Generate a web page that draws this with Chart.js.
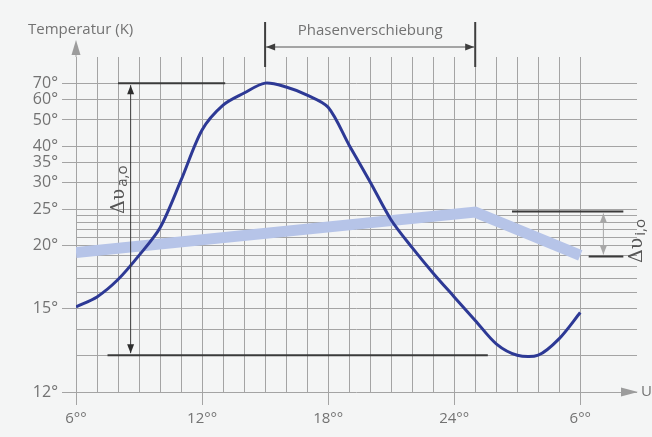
<!DOCTYPE html>
<html>
<head>
<meta charset="utf-8">
<script src="https://cdn.jsdelivr.net/npm/chart.js@4.4.1/dist/chart.umd.min.js"></script>
<style>
  html, body { margin: 0; padding: 0; background: #f4f5f5; }
  #wrap { width: 652px; height: 437px; }
</style>
</head>
<body>
<div id="wrap"><canvas id="chart"></canvas></div>
<script>
// Uhrzeit (Stunden, 30 = 6 Uhr am Folgetag)
const hours = [6, 7, 8, 9, 10, 11, 12, 13, 14, 15, 16, 17, 18, 19, 20, 21, 22, 23, 24, 25, 26, 27, 28, 29, 30];
// Außentemperatur in °
const outdoorTemp = [15.1, 15.7, 16.9, 19.0, 22.2, 30.6, 45.8, 57.1, 63.8, 70, 67.5, 62.6, 56, 40.3, 30.2, 23.3, 19.8, 17.4, 15.7, 14.4, 13.4, 13.0, 13.0, 13.6, 14.8];
// Innentemperatur
const indoorHours = [6, 25, 30];
const indoorTemp = [19.3, 24.5, 19.0];

const xTickLabels = { 6: '6°°', 12: '12°°', 18: '18°°', 24: '24°°', 30: '6°°' };
const yGridTemps = [12, 13, 14, 15, 16, 17, 18, 19, 20, 21, 22, 23, 24, 25, 30, 35, 40, 50, 60, 70];
const yTickLabels = [12, 15, 20, 25, 30, 35, 40, 50, 60, 70];

// Skala ist logarithmisch in (T - 10)
const OFFSET = 10;
const gridColor = '#a4a4a4';
const textColor = '#727272';

function arrowHead(ctx, tx, ty, dir, len, half) {
  // dir: 'up','down','left','right'
  ctx.beginPath();
  ctx.moveTo(tx, ty);
  if (dir === 'up') { ctx.lineTo(tx - half, ty + len); ctx.lineTo(tx + half, ty + len); }
  if (dir === 'down') { ctx.lineTo(tx - half, ty - len); ctx.lineTo(tx + half, ty - len); }
  if (dir === 'left') { ctx.lineTo(tx + len, ty - half); ctx.lineTo(tx + len, ty + half); }
  if (dir === 'right') { ctx.lineTo(tx - len, ty - half); ctx.lineTo(tx - len, ty + half); }
  ctx.closePath();
  ctx.fill();
}

function line(ctx, x1, y1, x2, y2, color, w) {
  ctx.strokeStyle = color;
  ctx.lineWidth = w;
  ctx.beginPath();
  ctx.moveTo(x1, y1);
  ctx.lineTo(x2, y2);
  ctx.stroke();
}

function deltaLabel(ctx, x, y, sub) {
  ctx.save();
  ctx.translate(x, y);
  ctx.rotate(-Math.PI / 2);
  ctx.fillStyle = '#555';
  ctx.textBaseline = 'alphabetic';
  ctx.textAlign = 'left';
  ctx.font = '19px "DejaVu Serif"';
  ctx.fillText('Δυ', 0, 0);
  const w = ctx.measureText('Δυ').width;
  ctx.font = '15px "Open Sans"';
  ctx.fillText(sub, w + 2, 3);
  ctx.restore();
}

const annotations = {
  id: 'annotations',
  afterDraw(chart) {
    const ctx = chart.ctx;
    const xs = chart.scales.x, ys = chart.scales.y;
    const px = h => xs.getPixelForValue(h);
    const py = t => ys.getPixelForValue(t - OFFSET);
    const area = chart.chartArea;
    ctx.save();

    // Achsenpfeile
    const x0 = px(6);
    line(ctx, x0, area.top, x0, 52, gridColor, 1);
    ctx.fillStyle = '#9c9c9c';
    arrowHead(ctx, x0, 40, 'up', 15, 4.5);
    arrowHead(ctx, area.right + 1, area.bottom, 'right', 17, 4.5);

    ctx.fillStyle = textColor;
    ctx.font = '15px "Open Sans"';
    ctx.textBaseline = 'middle';
    ctx.textAlign = 'left';
    ctx.fillText('Temperatur (K)', 28, 30);
    ctx.fillText('Uhrzeit', area.right + 4, area.bottom);

    // Phasenverschiebung
    const pa = px(15), pb = px(25);
    line(ctx, pa, 22, pa, 67, '#3e3e3e', 2);
    line(ctx, pb, 22, pb, 67, '#3e3e3e', 2);
    line(ctx, pa + 1, 47, pb - 1, 47, '#555', 1);
    ctx.fillStyle = '#3e3e3e';
    arrowHead(ctx, pa + 1, 47, 'left', 9, 3.5);
    arrowHead(ctx, pb - 1, 47, 'right', 9, 3.5);
    ctx.fillStyle = textColor;
    ctx.textAlign = 'center';
    ctx.fillText('Phasenverschiebung', (pa + pb) / 2, 31);

    // Amplitude außen
    const top = py(70), bot = py(13);
    line(ctx, px(8), top, px(13.1), top, '#3a3a3a', 2);
    line(ctx, px(7.5), bot, px(25.6), bot, '#3a3a3a', 2);
    const ax = px(8.6);
    line(ctx, ax, top + 2, ax, bot - 2, '#3a3a3a', 1);
    ctx.fillStyle = '#2e2e2e';
    arrowHead(ctx, ax, top + 2, 'up', 9, 3.5);
    arrowHead(ctx, ax, bot - 2, 'down', 9, 3.5);
    deltaLabel(ctx, 124, 214, 'a,o');

    // Amplitude innen
    const it = py(24.6), ib = py(18.9);
    line(ctx, px(26.75), it, px(32.05), it, '#3a3a3a', 2);
    line(ctx, px(30.4), ib, px(32.05), ib, '#3a3a3a', 2);
    const bx = px(31.1);
    line(ctx, bx, it + 2, bx, ib - 2, '#a8a8a8', 1);
    ctx.fillStyle = '#a8a8a8';
    arrowHead(ctx, bx, it + 2, 'up', 9, 3.5);
    arrowHead(ctx, bx, ib - 2, 'down', 9, 3.5);
    deltaLabel(ctx, 642, 263, 'i,o');

    ctx.restore();
  }
};

new Chart(document.getElementById('chart'), {
  type: 'line',
  data: {
    datasets: [
      {
        label: 'Außentemperatur',
        data: hours.map((h, i) => ({ x: h, y: outdoorTemp[i] - OFFSET })),
        borderColor: '#2d3995',
        borderWidth: 3,
        pointRadius: 0,
        tension: 0.3,
        fill: false
      },
      {
        label: 'Innentemperatur',
        data: indoorHours.map((h, i) => ({ x: h, y: indoorTemp[i] - OFFSET })),
        borderColor: '#b6c4e8',
        borderWidth: 11,
        borderCapStyle: 'butt',
        pointRadius: 0,
        tension: 0,
        fill: false
      }
    ]
  },
  options: {
    responsive: true,
    maintainAspectRatio: false,
    animation: false,
    layout: { padding: { top: 57, right: 15, left: 0, bottom: 0 } },
    plugins: {
      legend: { display: false },
      tooltip: { enabled: false }
    },
    scales: {
      x: {
        type: 'linear',
        min: 6,
        max: 32.7,
        afterBuildTicks: s => { s.ticks = hours.map(v => ({ value: v })); },
        afterFit: s => { s.height = 45; },
        border: { display: false },
        grid: {
          color: gridColor,
          lineWidth: 1,
          tickLength: 13,
          tickColor: c => (xTickLabels[c.tick && c.tick.value] ? gridColor : 'rgba(0,0,0,0)')
        },
        ticks: {
          autoSkip: false,
          maxRotation: 0,
          padding: 5,
          color: textColor,
          font: { family: 'Open Sans', size: 15 },
          callback: v => xTickLabels[v] || ''
        }
      },
      y: {
        type: 'logarithmic',
        min: 12 - OFFSET,
        max: 80,
        afterBuildTicks: s => { s.ticks = yGridTemps.map(t => ({ value: t - OFFSET })); },
        afterFit: s => { s.width = 76; },
        border: { display: false },
        grid: {
          color: gridColor,
          lineWidth: 1,
          tickLength: 14,
          tickColor: c => (c.tick && yTickLabels.includes(Math.round(c.tick.value + OFFSET)) ? gridColor : 'rgba(0,0,0,0)')
        },
        ticks: {
          autoSkip: false,
          padding: 4,
          color: textColor,
          font: { family: 'Open Sans', size: 16 },
          callback: v => {
            const t = Math.round(v + OFFSET);
            return yTickLabels.includes(t) ? t + '°' : '';
          }
        }
      }
    }
  },
  plugins: [annotations]
});
</script>
</body>
</html>
